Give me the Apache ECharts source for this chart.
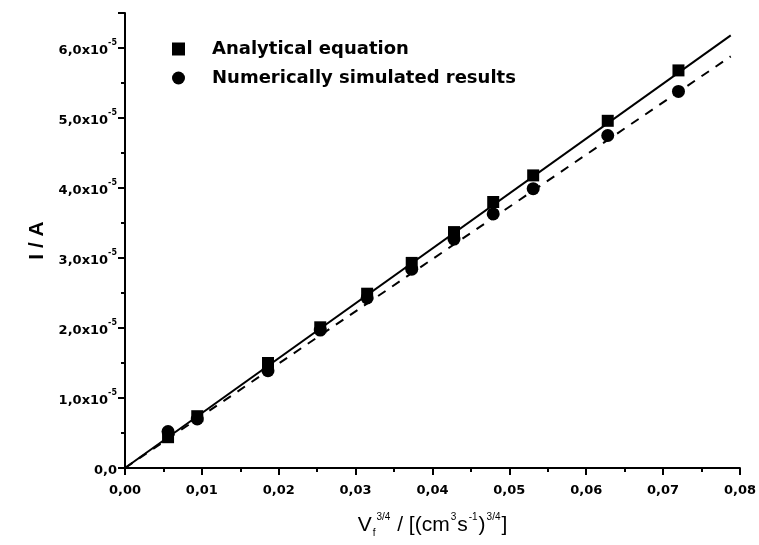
<!DOCTYPE html>
<html>
<head>
<meta charset="utf-8">
<script src="https://cdn.jsdelivr.net/npm/echarts@6/dist/echarts.min.js"></script>
<style>
  html, body { margin: 0; padding: 0; background: #fff; }
  #chart { width: 759px; height: 545px; }
</style>
</head>
<body>
<div id="chart"></div>
<script>
// Flow-rate term V_f^(3/4) for each run
const flowTerm = [0.0056, 0.0094, 0.0186, 0.0254, 0.0315, 0.0373, 0.0428, 0.0479, 0.0531, 0.0628, 0.0720];
// Current from the analytical equation (A)
const analyticalCurrent = [0.44e-5, 0.74e-5, 1.50e-5, 2.01e-5, 2.49e-5, 2.93e-5, 3.37e-5, 3.80e-5, 4.18e-5, 4.96e-5, 5.68e-5];
// Current from the numerical simulation (A)
const simulatedCurrent = [0.52e-5, 0.70e-5, 1.39e-5, 1.97e-5, 2.43e-5, 2.84e-5, 3.27e-5, 3.63e-5, 3.99e-5, 4.75e-5, 5.38e-5];
// Straight-line fits through the origin: end points
const fitX = [0, 0.0788];
const fitAnalytical = [0, 6.18e-5];
const fitSimulated = [0, 5.88e-5];

const xTickLabels = ['0,00', '0,01', '0,02', '0,03', '0,04', '0,05', '0,06', '0,07', '0,08'];
const yTickLabels = ['0,0', '1,0x10', '2,0x10', '3,0x10', '4,0x10', '5,0x10', '6,0x10'];
const yExponent = '-5';

const zip = (xs, ys) => xs.map((x, i) => [x, ys[i]]);

const FONT = '"DejaVu Sans", sans-serif';
const LABEL_FONT = '"Liberation Sans", Arial, sans-serif';

const chart = echarts.init(document.getElementById('chart'), null, { renderer: 'canvas' });

chart.setOption({
  animation: false,
  backgroundColor: '#ffffff',
  grid: { left: 125, right: 19, top: 13, bottom: 77, containLabel: false },
  legend: {
    orient: 'vertical',
    left: 167,
    top: 35,
    itemGap: 11,
    itemWidth: 13,
    itemHeight: 13,
    data: [
      { name: 'Analytical equation', icon: 'rect' },
      { name: 'Numerically simulated results', icon: 'circle' }
    ],
    itemStyle: { opacity: 1 },
    textStyle: { fontFamily: FONT, fontWeight: 'bold', fontSize: 18, color: '#000', padding: [0, 0, 0, 22] }
  },
  xAxis: {
    type: 'value',
    min: 0,
    max: 0.08,
    interval: 0.01,
    axisLine: { show: true, onZero: false, lineStyle: { color: '#000', width: 2 } },
    axisTick: { show: true, inside: false, length: 7, lineStyle: { color: '#000', width: 2 } },
    minorTick: { show: true, splitNumber: 2, length: 4, lineStyle: { color: '#000', width: 2 } },
    splitLine: { show: false },
    axisLabel: {
      margin: 16,
      fontFamily: FONT, fontWeight: 'bold', fontSize: 13, color: '#000',
      formatter: v => xTickLabels[Math.round(v / 0.01)] || ''
    },
    name: '{v|V}{sub|f}{sup|3/4}{t| / [(cm}{sup|3}{t|s}{sup|-1}{t|)}{sup|3/4}{t|]}',
    nameLocation: 'middle',
    nameGap: 44,
    nameTextStyle: {
      rich: {
        v: { fontFamily: LABEL_FONT, fontSize: 21, color: '#000', lineHeight: 26, verticalAlign: 'middle' },
        t: { fontFamily: LABEL_FONT, fontSize: 21, color: '#000', lineHeight: 26, verticalAlign: 'middle' },
        sup: { fontFamily: LABEL_FONT, fontSize: 10, color: '#000', lineHeight: 10, verticalAlign: 'top', padding: [0, 1, 0, 1] },
        sub: { fontFamily: LABEL_FONT, fontSize: 10, color: '#000', lineHeight: 10, verticalAlign: 'bottom', padding: [0, 0, 0, 1] }
      }
    }
  },
  yAxis: {
    type: 'value',
    min: 0,
    max: 6.5e-5,
    interval: 1e-5,
    axisLine: { show: true, onZero: false, lineStyle: { color: '#000', width: 2 } },
    axisTick: { show: true, inside: false, length: 7, lineStyle: { color: '#000', width: 2 } },
    minorTick: { show: true, splitNumber: 2, length: 4, lineStyle: { color: '#000', width: 2 } },
    splitLine: { show: false },
    axisLabel: {
      margin: 8,
      showMaxLabel: false,
      formatter: v => {
        const i = Math.round(v / 1e-5);
        if (Math.abs(v - i * 1e-5) > 1e-9 || !yTickLabels[i]) return '';
        return i === 0 ? '{b|' + yTickLabels[0] + '}' : '{b|' + yTickLabels[i] + '}{s|' + yExponent + '}';
      },
      rich: {
        b: { fontFamily: FONT, fontWeight: 'bold', fontSize: 13, color: '#000', lineHeight: 18, verticalAlign: 'bottom' },
        s: { fontFamily: FONT, fontWeight: 'bold', fontSize: 8, color: '#000', lineHeight: 8, verticalAlign: 'top' }
      }
    },
    name: 'I / A',
    nameLocation: 'middle',
    nameGap: 76,
    nameRotate: 90,
    nameTextStyle: { fontFamily: LABEL_FONT, fontWeight: 'bold', fontSize: 21, color: '#000' }
  },
  series: [
    {
      name: 'Analytical fit',
      type: 'line',
      data: zip(fitX, fitAnalytical),
      showSymbol: false,
      lineStyle: { color: '#000', width: 2, type: 'solid' },
      z: 1
    },
    {
      name: 'Simulated fit',
      type: 'line',
      data: zip(fitX, fitSimulated),
      showSymbol: false,
      lineStyle: { color: '#000', width: 2, type: [9, 8] },
      z: 1
    },
    {
      name: 'Numerically simulated results',
      type: 'scatter',
      data: zip(flowTerm, simulatedCurrent),
      symbol: 'circle',
      symbolSize: 13,
      itemStyle: { color: '#000', opacity: 1 },
      z: 3
    },
    {
      name: 'Analytical equation',
      type: 'scatter',
      data: zip(flowTerm, analyticalCurrent),
      symbol: 'rect',
      symbolSize: 12,
      itemStyle: { color: '#000', opacity: 1 },
      z: 3
    }
  ]
});
</script>
</body>
</html>
